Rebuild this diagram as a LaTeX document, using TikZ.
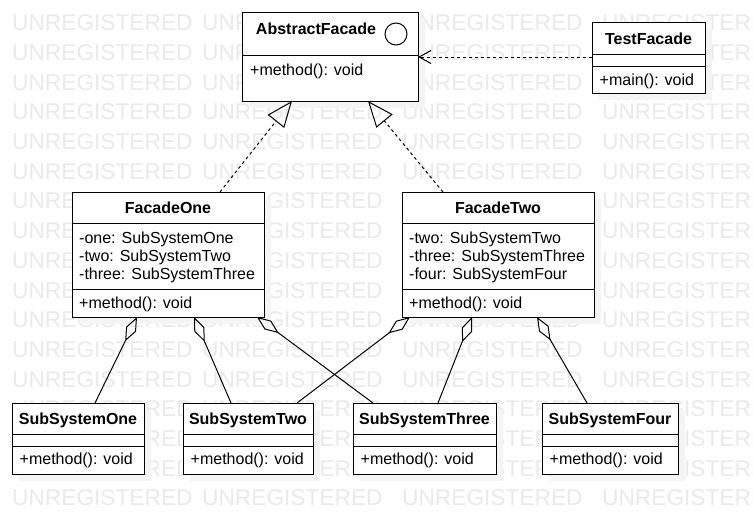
\documentclass[tikz,border=0pt]{standalone}
\usepackage{fontspec}
\setmainfont{Liberation Sans}
\usetikzlibrary{arrows.meta,calc}
\definecolor{wm}{RGB}{234,234,234}
\definecolor{shadowc}{RGB}{244,244,244}
\begin{document}
\begin{tikzpicture}[x=1pt,y=-1pt,
  box/.style={draw, line width=1pt, fill=white, rectangle, inner sep=0pt, outer sep=0pt, anchor=north west},
  lbl/.style={font=\fontsize{16}{18}\selectfont, inner sep=0pt, anchor=base west},
  ttl/.style={font=\fontsize{16}{18}\selectfont\bfseries, inner sep=0pt, anchor=base},
  wmtext/.style={font=\fontsize{22.7}{26}\selectfont, text=wm, inner sep=0pt, anchor=base west},
  shd/.style={fill=shadowc, draw=none},
  divider/.style={draw, line width=1pt},
  realize/.style={draw, line width=1pt, dash pattern=on 3pt off 3pt, -{Triangle[open, length=26pt, width=21pt]}},
  depend/.style={draw, line width=1pt, dash pattern=on 3pt off 3pt, -{Straight Barb[length=12pt, width=13pt]}},
  aggr/.style={draw, line width=1pt, {Diamond[open, length=27pt, width=11pt]}-}
]
\useasboundingbox (0,0) rectangle (753,523);
\fill[white] (0,0) rectangle (753,523);
% watermark
\begin{scope}
\clip (0,0) rectangle (753,523);
\foreach \k in {0,...,16}{
  \foreach \xx [count=\i] in {12,202,402,602}{
    \node[wmtext] (wm-\k-\i) at (\xx,{30.7+29.7*\k}) {UNREGISTERED};
  }
}
\end{scope}
% shadows
\fill[shd] (249,19) rectangle (425,108);
\fill[shd] (599,29) rectangle (712,100);
\fill[shd] (79,199) rectangle (271,324);
\fill[shd] (409,199) rectangle (601,324);
\fill[shd] (19,410) rectangle (151,481);
\fill[shd] (190,410) rectangle (320,481);
\fill[shd] (360,410) rectangle (503,481);
\fill[shd] (549,410) rectangle (685,481);

% AbstractFacade
\node[box, minimum width=176pt, minimum height=89pt] (af) at (242,12) {};
\draw[divider] ([yshift=-43pt]af.north west) -- ([yshift=-43pt]af.north east);
\node[ttl] (aft) at (316,34.2) {AbstractFacade};
\node[draw, circle, line width=1pt, minimum size=22pt, inner sep=0pt] (afc) at (396,34) {};
\node[lbl] (afm) at (250,75) {+method(): void};

% TestFacade
\node[box, minimum width=113pt, minimum height=71pt] (tf) at (592,22) {};
\draw[divider] ([yshift=-32pt]tf.north west) -- ([yshift=-32pt]tf.north east);
\draw[divider] ([yshift=-44pt]tf.north west) -- ([yshift=-44pt]tf.north east);
\node[ttl] (tft) at (648.5,44.8) {TestFacade};
\node[lbl] (tfm) at (599.5,85) {+main(): void};

% FacadeOne
\node[box, minimum width=192pt, minimum height=125pt] (f1) at (72,192) {};
\draw[divider] ([yshift=-31pt]f1.north west) -- ([yshift=-31pt]f1.north east);
\draw[divider] ([yshift=-97pt]f1.north west) -- ([yshift=-97pt]f1.north east);
\node[ttl] (f1t) at (168,213.8) {FacadeOne};
\node[lbl] (f1a1) at (79,243.2) {-one: SubSystemOne};
\node[lbl] (f1a2) at (79,261.2) {-two: SubSystemTwo};
\node[lbl] (f1a3) at (79,279.2) {-three: SubSystemThree};
\node[lbl] (f1m) at (79,308.2) {+method(): void};

% FacadeTwo
\node[box, minimum width=192pt, minimum height=125pt] (f2) at (402,192) {};
\draw[divider] ([yshift=-31pt]f2.north west) -- ([yshift=-31pt]f2.north east);
\draw[divider] ([yshift=-97pt]f2.north west) -- ([yshift=-97pt]f2.north east);
\node[ttl] (f2t) at (498,213.8) {FacadeTwo};
\node[lbl] (f2a1) at (409,243.2) {-two: SubSystemTwo};
\node[lbl] (f2a2) at (409,261.2) {-three: SubSystemThree};
\node[lbl] (f2a3) at (409,279.2) {-four: SubSystemFour};
\node[lbl] (f2m) at (409,308.2) {+method(): void};

% Subsystems
\foreach \n/\xl/\w/\name in {s1/12/132/SubSystemOne, s2/183/130/SubSystemTwo, s3/353/143/SubSystemThree, s4/542/136/SubSystemFour}{
  \node[box, minimum width=\w pt, minimum height=71pt] (\n) at (\xl,403) {};
  \draw[divider] ([yshift=-31pt]\n.north west) -- ([yshift=-31pt]\n.north east);
  \draw[divider] ([yshift=-43pt]\n.north west) -- ([yshift=-43pt]\n.north east);
  \node[ttl] (\n-t) at ({\xl+\w/2},424.2) {\name};
  \node[lbl] (\n-m) at ({\xl+7.5},464.2) {+method(): void};
}

% realizations
\draw[realize] ([xshift=148pt]f1.north west) -- ([xshift=50pt]af.south west);
\draw[realize] ([xshift=41pt]f2.north west) -- ([xshift=126pt]af.south west);
% dependency
\draw[depend] ([yshift=-35pt]tf.north west) -- ([yshift=-45pt]af.north east);
% aggregations
\draw[aggr] ([xshift=65pt]f1.south west) -- ([xshift=83pt]s1.north west);
\draw[aggr] ([xshift=122pt]f1.south west) -- ([xshift=48pt]s2.north west);
\draw[aggr] ([xshift=185pt]f1.south west) -- ([xshift=20pt]s3.north west);
\draw[aggr] ([xshift=8pt]f2.south west) -- ([xshift=114pt]s2.north west);
\draw[aggr] ([xshift=70pt]f2.south west) -- ([xshift=85pt]s3.north west);
\draw[aggr] ([xshift=135pt]f2.south west) -- ([xshift=45pt]s4.north west);
\end{tikzpicture}
\end{document}
